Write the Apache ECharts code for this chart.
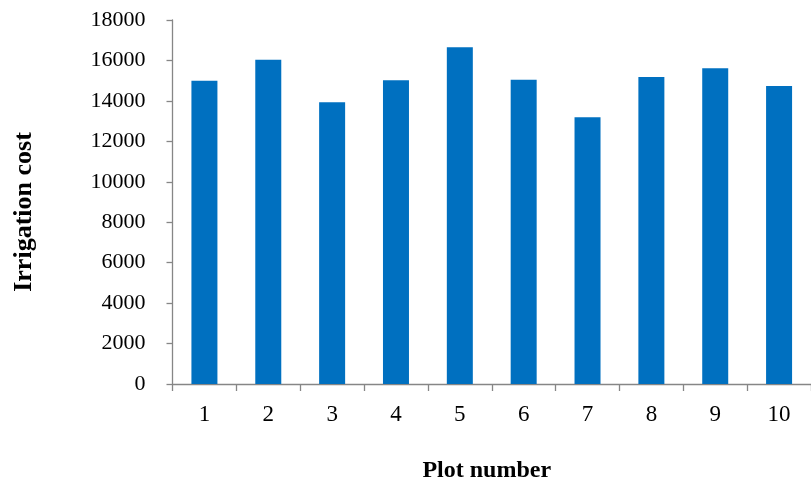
<!DOCTYPE html>
<html>
<head>
<meta charset="utf-8">
<script src="https://cdn.jsdelivr.net/npm/echarts@6/dist/echarts.min.js"></script>
<style>html,body{margin:0;padding:0;background:#fff;}#c{width:811px;height:488px;}</style>
</head>
<body>
<div id="c"></div>
<script>
const categories = ['1','2','3','4','5','6','7','8','9','10'];
const irrigationCost = [15000, 16040, 13930, 15020, 16650, 15050, 13190, 15180, 15610, 14740];
const yTicks = { min: 0, max: 18000, interval: 2000 };

const chart = echarts.init(document.getElementById('c'));
const font = '"Liberation Serif","Times New Roman",serif';
const axisColor = '#868686';
chart.setOption({
  animation: false,
  grid: { left: 172.5, right: -9.5, top: 20, bottom: 104, containLabel: false },
  xAxis: {
    type: 'category',
    data: categories,
    name: 'Plot number',
    nameLocation: 'middle',
    nameGap: 75,
    nameTextStyle: { fontFamily: font, fontSize: 24, fontWeight: 'bold', color: '#000', padding: [0, 10, 0, 0] },
    axisLine: { lineStyle: { color: axisColor, width: 1.3 } },
    axisTick: { show: true, length: 7, lineStyle: { color: axisColor, width: 1.3 } },
    axisLabel: { fontFamily: font, fontSize: 23, color: '#000', margin: 19 }
  },
  yAxis: {
    type: 'value',
    min: yTicks.min, max: yTicks.max, interval: yTicks.interval,
    name: 'Irrigation cost',
    nameLocation: 'middle',
    nameGap: 135,
    nameTextStyle: { fontFamily: font, fontSize: 26, fontWeight: 'bold', color: '#000', padding: [0, 20, 0, 0] },
    axisLine: { show: true, lineStyle: { color: axisColor, width: 1.3 } },
    axisTick: { show: true, length: 6, lineStyle: { color: axisColor, width: 1.3 } },
    axisLabel: { fontFamily: font, fontSize: 22, color: '#000', margin: 27, formatter: v => String(v) },
    splitLine: { show: false }
  },
  series: [{
    type: 'bar',
    data: irrigationCost,
    barWidth: 26,
    itemStyle: { color: '#0070C0' }
  }]
});
</script>
</body>
</html>
